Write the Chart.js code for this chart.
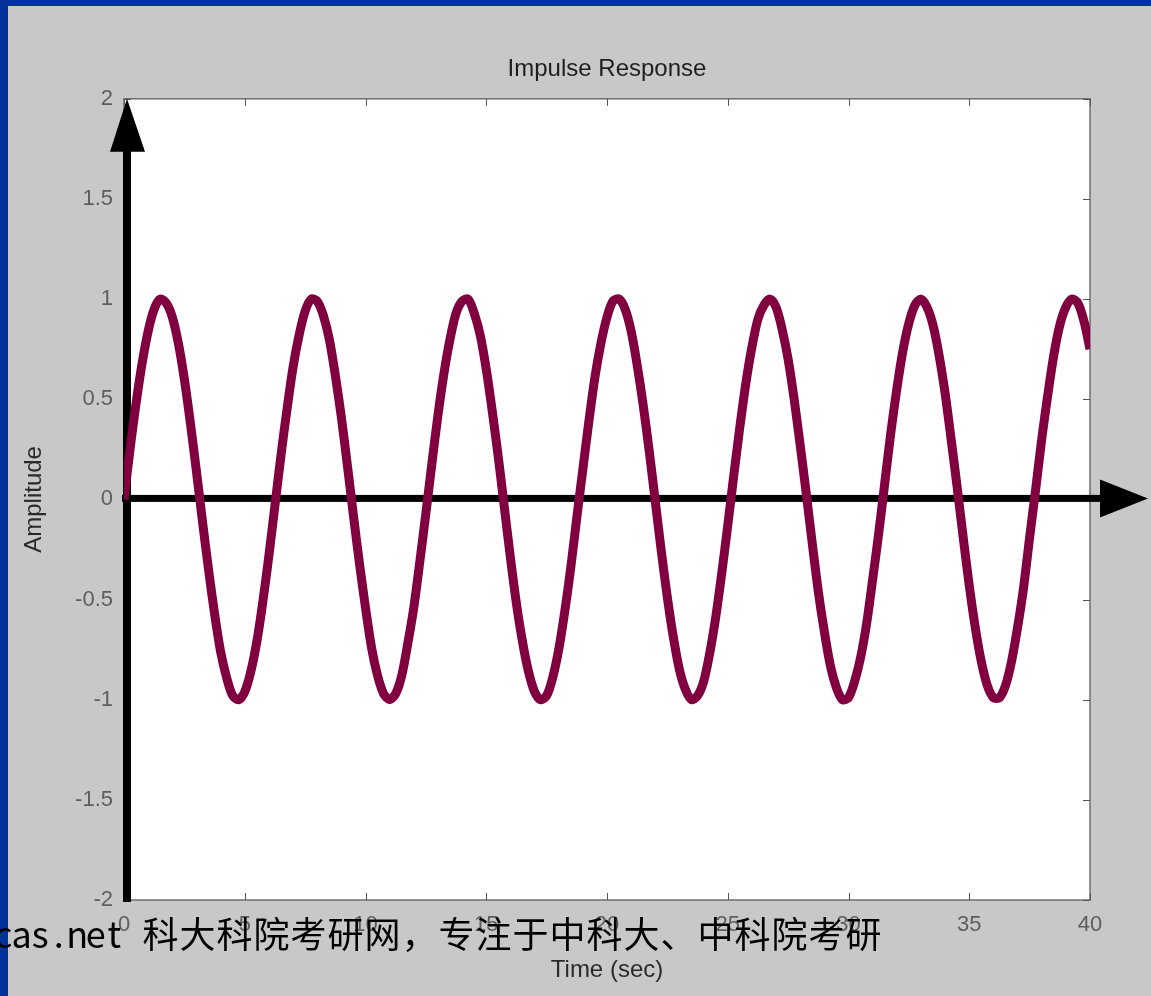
<!DOCTYPE html>
<html>
<head>
<meta charset="utf-8">
<title>Impulse Response</title>
<script src="https://cdn.jsdelivr.net/npm/chart.js@4.4.1/dist/chart.umd.min.js"></script>
<style>
  html, body { margin: 0; padding: 0; background: #003399; overflow: hidden; }
  canvas { display: block; }
</style>
</head>
<body>
<canvas id="c" width="1151" height="996"></canvas>
<script>
// Sampled impulse response: time (s) and amplitude
const timeSec = [
  0, 0.25, 0.5, 0.75, 1, 1.25, 1.5, 1.75, 2, 2.25, 2.5, 2.75, 3, 3.25, 3.5, 3.75,
  4, 4.25, 4.5, 4.75, 5, 5.25, 5.5, 5.75, 6, 6.25, 6.5, 6.75, 7, 7.25, 7.5, 7.75,
  8, 8.25, 8.5, 8.75, 9, 9.25, 9.5, 9.75, 10, 10.25, 10.5, 10.75, 11, 11.25, 11.5, 11.75,
  12, 12.25, 12.5, 12.75, 13, 13.25, 13.5, 13.75, 14, 14.25, 14.5, 14.75, 15, 15.25, 15.5, 15.75,
  16, 16.25, 16.5, 16.75, 17, 17.25, 17.5, 17.75, 18, 18.25, 18.5, 18.75, 19, 19.25, 19.5, 19.75,
  20, 20.25, 20.5, 20.75, 21, 21.25, 21.5, 21.75, 22, 22.25, 22.5, 22.75, 23, 23.25, 23.5, 23.75,
  24, 24.25, 24.5, 24.75, 25, 25.25, 25.5, 25.75, 26, 26.25, 26.5, 26.75, 27, 27.25, 27.5, 27.75,
  28, 28.25, 28.5, 28.75, 29, 29.25, 29.5, 29.75, 30, 30.25, 30.5, 30.75, 31, 31.25, 31.5, 31.75,
  32, 32.25, 32.5, 32.75, 33, 33.25, 33.5, 33.75, 34, 34.25, 34.5, 34.75, 35, 35.25, 35.5, 35.75,
  36, 36.25, 36.5, 36.75, 37, 37.25, 37.5, 37.75, 38, 38.25, 38.5, 38.75, 39, 39.25, 39.5, 39.75,
  40
];
const amplitude = [
  0.00, 0.25, 0.48, 0.68, 0.84, 0.95, 1.00, 0.98, 0.91, 0.78, 0.60, 0.38, 0.14, -0.11, -0.35, -0.57,
  -0.76, -0.89, -0.98, -1.00, -0.96, -0.86, -0.71, -0.51, -0.28, -0.03, 0.22, 0.45, 0.66, 0.82, 0.94, 1.00,
  0.99, 0.92, 0.80, 0.62, 0.41, 0.17, -0.08, -0.32, -0.54, -0.74, -0.88, -0.97, -1.00, -0.97, -0.88, -0.72,
  -0.54, -0.31, -0.07, 0.18, 0.42, 0.63, 0.80, 0.93, 0.99, 1.00, 0.93, 0.82, 0.65, 0.44, 0.21, -0.04,
  -0.29, -0.52, -0.71, -0.86, -0.96, -1.00, -0.98, -0.89, -0.75, -0.56, -0.34, -0.09, 0.15, 0.39, 0.61, 0.78,
  0.91, 0.99, 1.00, 0.95, 0.84, 0.67, 0.47, 0.24, -0.01, -0.26, -0.49, -0.69, -0.85, -0.95, -1.00, -0.98,
  -0.91, -0.77, -0.59, -0.37, -0.13, 0.12, 0.36, 0.58, 0.76, 0.90, 0.97, 1.00, 0.96, 0.85, 0.70, 0.50,
  0.27, 0.03, -0.22, -0.46, -0.66, -0.83, -0.94, -1.00, -0.99, -0.91, -0.79, -0.62, -0.40, -0.17, 0.08, 0.33,
  0.55, 0.74, 0.88, 0.97, 1.00, 0.96, 0.87, 0.72, 0.53, 0.30, 0.06, -0.19, -0.43, -0.64, -0.81, -0.93,
  -0.99, -0.99, -0.93, -0.81, -0.64, -0.44, -0.19, 0.05, 0.30, 0.52, 0.72, 0.87, 0.96, 1.00, 0.98, 0.89,
  0.75
];

// Axis tick labels
const xTickLabels = ['0', '5', '10', '15', '20', '25', '30', '35', '40'];
const yTickLabels = ['-2', '-1.5', '-1', '-0.5', '0', '0.5', '1', '1.5', '2'];

// Text
const titleText = 'Impulse Response';
const xAxisTitle = 'Time (sec)';
const yAxisTitle = 'Amplitude';
const bannerText = 'cas.net 科大科院考研网，专注于中科大、中科院考研';

const points = timeSec.map((t, i) => ({ x: t, y: amplitude[i] }));
const labelFont = '"Liberation Sans", Arial, sans-serif';

// Window background, white axes box, box outline, inward ticks and the arrowed axes
const decor = {
  id: 'decor',
  beforeDraw(chart) {
    const { ctx, chartArea: a } = chart;
    ctx.save();
    ctx.fillStyle = '#003399';
    ctx.fillRect(0, 0, chart.width, chart.height);
    ctx.fillStyle = '#c8c8c8';
    ctx.fillRect(8, 6, chart.width - 8, chart.height - 6);
    ctx.fillStyle = '#ffffff';
    ctx.fillRect(a.left, a.top, a.right - a.left, a.bottom - a.top);
    ctx.restore();
  },
  beforeDatasetsDraw(chart) {
    const { ctx, chartArea: a, scales: { x, y } } = chart;
    ctx.save();
    ctx.strokeStyle = '#6e6e6e';
    ctx.lineWidth = 1.5;
    ctx.strokeRect(a.left, a.top, a.right - a.left, a.bottom - a.top);

    ctx.lineWidth = 1;
    ctx.strokeStyle = '#555555';
    ctx.beginPath();
    x.ticks.forEach(t => {
      const px = Math.round(x.getPixelForValue(t.value)) + 0.5;
      ctx.moveTo(px, a.bottom); ctx.lineTo(px, a.bottom - 7);
      ctx.moveTo(px, a.top); ctx.lineTo(px, a.top + 7);
    });
    y.ticks.forEach(t => {
      const py = Math.round(y.getPixelForValue(t.value)) + 0.5;
      ctx.moveTo(a.left, py); ctx.lineTo(a.left + 7, py);
      ctx.moveTo(a.right, py); ctx.lineTo(a.right - 7, py);
    });
    ctx.stroke();

    // Arrowed coordinate axes
    const x0 = a.left + 3;
    const y0 = y.getPixelForValue(0) - 1;
    ctx.fillStyle = '#000000';
    ctx.fillRect(x0 - 4, a.top + 50, 8, a.bottom - a.top - 48);
    ctx.beginPath();
    ctx.moveTo(x0 - 17, a.top + 53);
    ctx.lineTo(x0 + 18, a.top + 53);
    ctx.lineTo(x0, a.top);
    ctx.closePath();
    ctx.fill();

    ctx.fillRect(a.left - 2, y0 - 3.5, a.right - a.left + 14, 7);
    ctx.beginPath();
    ctx.moveTo(a.right + 10, y0 - 19);
    ctx.lineTo(a.right + 10, y0 + 19);
    ctx.lineTo(a.right + 58, y0);
    ctx.closePath();
    ctx.fill();
    ctx.restore();
  },
  afterDraw(chart) {
    const { ctx } = chart;
    ctx.save();
    ctx.fillStyle = '#000000';
    ctx.font = '36px "Noto Sans CJK SC", sans-serif';
    ctx.textBaseline = 'alphabetic';
    ctx.textAlign = 'center';
    let cx = -6;
    for (const ch of bannerText) {
      const w = ch.charCodeAt(0) > 255 ? 37 : 18.5;
      ctx.fillText(ch, cx + w / 2, 948);
      cx += w;
    }
    ctx.restore();
  }
};

new Chart(document.getElementById('c'), {
  type: 'line',
  data: {
    datasets: [{
      data: points,
      borderColor: '#800040',
      borderWidth: 9,
      pointRadius: 0,
      tension: 0.3,
      fill: false
    }]
  },
  options: {
    responsive: false,
    animation: false,
    layout: { padding: { left: 0, top: 0, right: 61, bottom: 0 } },
    plugins: {
      legend: { display: false },
      tooltip: { enabled: false },
      title: {
        display: true,
        text: titleText,
        fullSize: false,
        color: '#1e1e1e',
        font: { family: labelFont, size: 24, weight: 'normal' },
        padding: { top: 55, bottom: 15 }
      }
    },
    scales: {
      x: {
        type: 'linear',
        min: 0,
        max: 40,
        afterFit(scale) { scale.height = 96; },
        ticks: {
          stepSize: 5,
          padding: 12,
          color: '#5e5e5e',
          font: { family: labelFont, size: 22 },
          maxRotation: 0,
          callback: (v) => xTickLabels[Math.round(v / 5)]
        },
        grid: { display: false, drawTicks: false },
        border: { display: false },
        title: {
          display: true,
          text: xAxisTitle,
          color: '#2a2a2a',
          font: { family: labelFont, size: 24 },
          padding: { top: 0, bottom: 11 }
        }
      },
      y: {
        type: 'linear',
        min: -2,
        max: 2,
        afterFit(scale) { scale.width = 124; },
        ticks: {
          stepSize: 0.5,
          padding: 11,
          color: '#5e5e5e',
          font: { family: labelFont, size: 22 },
          callback: (v) => yTickLabels[Math.round((v + 2) / 0.5)]
        },
        grid: { display: false, drawTicks: false },
        border: { display: false },
        title: {
          display: true,
          text: yAxisTitle,
          color: '#2a2a2a',
          font: { family: labelFont, size: 24 },
          padding: { top: 20, bottom: 0 }
        }
      }
    }
  },
  plugins: [decor]
});
</script>
</body>
</html>
